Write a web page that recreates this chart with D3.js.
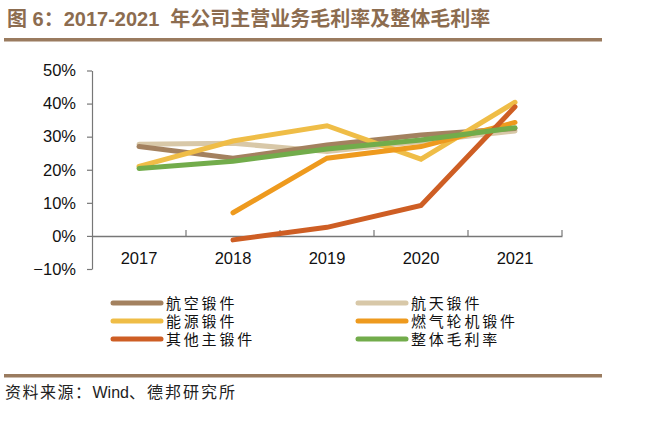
<!DOCTYPE html>
<html><head><meta charset="utf-8">
<script src="https://cdn.jsdelivr.net/npm/d3@7"></script>
<style>body{margin:0;background:#fff}svg{display:block}</style>
</head><body>
<svg id="c" width="667" height="435"></svg>
<script>
const years = ["2017","2018","2019","2020","2021"];
const yTicks = [-0.1,0,0.1,0.2,0.3,0.4,0.5];
const seriesNames = ["航空锻件","航天锻件","能源锻件","燃气轮机锻件","其他主锻件","整体毛利率"];
const aviation = [0.27,0.235,0.275,0.305,0.325];
const aerospace = [0.277,0.28,0.255,0.285,0.317];
const energy = [0.21,0.287,0.333,0.232,0.404];
const turbine = [null,0.07,0.235,0.27,0.343];
const other = [null,-0.012,0.026,0.092,0.39];
const overall = [0.204,0.226,0.263,0.29,0.327];
const colors = ["#A3815F","#D8C8A8","#EFBD47","#EE9A1E","#CE5E24","#72AC4B"];
const allSeries = [aviation,aerospace,energy,turbine,other,overall];
const drawOrder = [1,0,2,3,4,5];

const svg = d3.select("#c");
const titleCol = "#8C6C4F";
const title = svg.append("text").attr("x",7).attr("y",26)
  .attr("font-family","'Liberation Sans','Noto Sans CJK SC',sans-serif")
  .attr("font-weight","bold").attr("font-size",20).attr("fill",titleCol);
title.append("tspan").text("图 6：2017-2021");
title.append("tspan").attr("dx",11).text("年公司主营业务毛利率及整体毛利率");
svg.append("rect").attr("x",4).attr("y",38).attr("width",598).attr("height",3.5).attr("fill","#9A7B5F");
svg.append("rect").attr("x",4).attr("y",374).attr("width",598).attr("height",3.5).attr("fill","#9A7B5F");
const src = svg.append("text").attr("x",5).attr("y",398)
  .attr("font-family","'Liberation Sans','Noto Sans CJK SC',sans-serif")
  .attr("font-size",16).attr("fill","#222");
src.append("tspan").attr("letter-spacing",1.5).text("资料来源：");
src.append("tspan").text("Wind");
src.append("tspan").attr("letter-spacing",2).text("、德邦研究所");

const x = d3.scaleBand().domain(years).range([92,562]);
const y = d3.scaleLinear().domain([-0.1,0.5]).range([269,70.5]);

// y axis
const ya = svg.append("g").attr("transform","translate(92,0)")
  .call(d3.axisLeft(y).tickValues(yTicks).tickFormat(d3.format(".0%")).tickSize(5).tickSizeOuter(0));
ya.select(".domain").attr("stroke","#777").attr("stroke-width",1.2);
ya.selectAll(".tick line").attr("stroke","#777").attr("stroke-width",1.2);
ya.selectAll("text").attr("font-family","'Liberation Sans',Arial,sans-serif").attr("font-size",16.5).attr("fill","#111").attr("x",-16);

// x axis at 0
const xa = svg.append("g").attr("transform",`translate(0,${y(0)})`)
  .call(d3.axisTop(x).tickSize(0).tickFormat(""));
xa.select(".domain").attr("stroke","#777").attr("stroke-width",1.5);
xa.selectAll(".tick").remove();
const bounds = years.map(d=>x(d)+x.bandwidth());
xa.selectAll("line.b").data(bounds).enter().append("line")
  .attr("x1",d=>d).attr("x2",d=>d).attr("y1",0).attr("y2",-6).attr("stroke","#777").attr("stroke-width",1.2);
svg.append("g").selectAll("text").data(years).enter().append("text")
  .attr("x",d=>x(d)+x.bandwidth()/2).attr("y",264)
  .attr("text-anchor","middle").attr("font-family","'Liberation Sans',Arial,sans-serif")
  .attr("font-size",16.5).attr("fill","#111").text(d=>d);

const line = d3.line().defined(d=>d[1]!==null).x(d=>x(d[0])+x.bandwidth()/2).y(d=>y(d[1]));
drawOrder.forEach(i=>{
  svg.append("path").datum(years.map((yr,j)=>[yr,allSeries[i][j]]))
    .attr("d",line).attr("fill","none").attr("stroke",colors[i])
    .attr("stroke-width",5).attr("stroke-linecap","round").attr("stroke-linejoin","miter");
});

// legend
const lx = [113,358], ly = [303,321,339];
seriesNames.forEach((n,i)=>{
  const cx = lx[i%2], cy = ly[Math.floor(i/2)];
  const g = svg.append("g");
  g.append("line").attr("x1",cx).attr("x2",cx+48).attr("y1",cy).attr("y2",cy)
    .attr("stroke",colors[i]).attr("stroke-width",5).attr("stroke-linecap","round");
  g.append("text").attr("x",cx+53).attr("y",cy+5.5)
    .attr("font-family","'Liberation Sans','Noto Sans CJK SC',sans-serif").attr("font-size",15)
    .attr("letter-spacing",2.8).attr("fill","#111").text(n);
});
</script>
</body></html>
